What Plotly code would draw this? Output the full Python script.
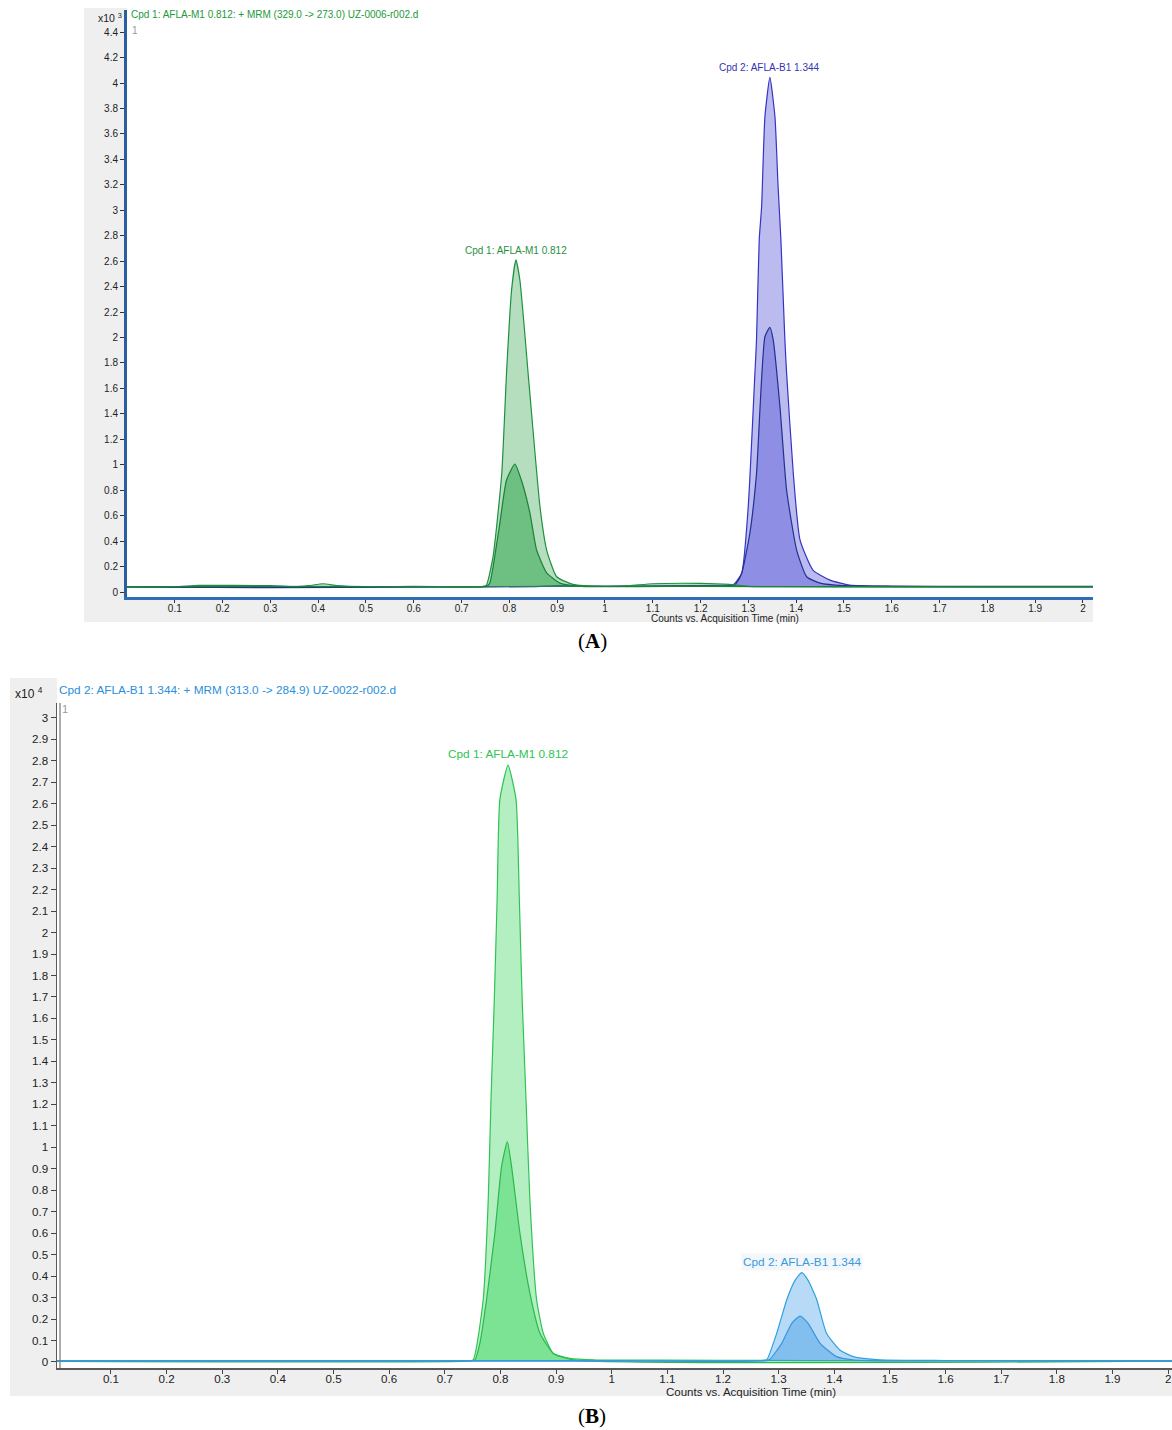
import plotly.graph_objects as go

W, H = 1172, 1430

# ---------------- Panel A data (counts x10^3) ----------------
A_m1_quant_x = [0, 0.1, 0.15, 0.3, 0.35, 0.38, 0.41, 0.44, 0.5, 0.6, 0.7, 0.745, 0.752, 0.766, 0.784, 0.794,
                0.8045, 0.8136, 0.822, 0.841, 0.864, 0.878, 0.899, 0.933, 1.0, 1.05, 1.1, 1.2, 1.26, 1.3, 1.5, 1.7, 2.021]
A_m1_quant_y = [0.04, 0.042, 0.052, 0.05, 0.042, 0.05, 0.065, 0.05, 0.042, 0.045, 0.042, 0.045, 0.055, 0.28, 0.93, 1.72,
                2.37, 2.61, 2.45, 1.64, 0.67, 0.33, 0.12, 0.06, 0.045, 0.05, 0.065, 0.068, 0.06, 0.045, 0.042, 0.04, 0.04]
A_m1_qual_x = [0, 0.3, 0.6, 0.74, 0.752, 0.759, 0.766, 0.78, 0.794, 0.8115, 0.825, 0.843, 0.857, 0.878, 0.906,
               0.95, 1.2, 1.5, 2.021]
A_m1_qual_y = [0.04, 0.045, 0.04, 0.04, 0.045, 0.07, 0.2, 0.54, 0.88, 1.006, 0.88, 0.62, 0.33, 0.15, 0.07,
               0.045, 0.045, 0.04, 0.04]
A_b1_quant_x = [0, 0.2, 0.3, 0.6, 0.9, 1.0, 1.2, 1.26, 1.268, 1.286, 1.2997, 1.3137, 1.317, 1.3227, 1.3277, 1.3346,
                1.345, 1.3556, 1.362, 1.368, 1.3764, 1.380, 1.394, 1.408, 1.4357, 1.4706, 1.512, 1.6, 1.8, 2.021]
A_b1_quant_y = [0.04, 0.036, 0.036, 0.04, 0.045, 0.045, 0.05, 0.05, 0.055, 0.147, 0.67, 1.72, 1.98, 2.77, 3.03, 3.735,
                4.045, 3.735, 3.2, 2.77, 1.98, 1.72, 0.93, 0.41, 0.17, 0.094, 0.055, 0.045, 0.04, 0.04]
A_b1_qual_x = [0, 0.3, 0.6, 0.85, 0.9, 1.0, 1.2, 1.27, 1.275, 1.286, 1.303, 1.317, 1.3346, 1.345, 1.352, 1.366,
               1.380, 1.401, 1.422, 1.450, 1.5, 1.7, 2.021]
A_b1_qual_y = [0.04, 0.034, 0.04, 0.042, 0.05, 0.045, 0.05, 0.05, 0.07, 0.147, 0.46, 0.93, 2.006, 2.08, 1.98, 1.46,
               0.80, 0.33, 0.12, 0.07, 0.05, 0.045, 0.045]

A_ytick_vals = [0, 0.2, 0.4, 0.6, 0.8, 1, 1.2, 1.4, 1.6, 1.8, 2, 2.2, 2.4, 2.6, 2.8, 3, 3.2, 3.4, 3.6, 3.8, 4, 4.2, 4.4]
A_ytick_text = ["0", "0.2", "0.4", "0.6", "0.8", "1", "1.2", "1.4", "1.6", "1.8", "2", "2.2", "2.4", "2.6", "2.8",
                "3", "3.2", "3.4", "3.6", "3.8", "4", "4.2", "4.4"]

# ---------------- Panel B data (counts x10^4) ----------------
B_m1_quant_x = [0, 0.3, 0.6, 0.74, 0.751, 0.769, 0.778, 0.783, 0.789, 0.794, 0.799, 0.8136, 0.828, 0.834, 0.839,
                0.846, 0.853, 0.865, 0.877, 0.895, 0.925, 0.97, 1.2, 1.5, 2.01]
B_m1_quant_y = [0.005, 0.005, 0.005, 0.006, 0.01, 0.29, 0.75, 1.22, 1.69, 2.15, 2.62, 2.78, 2.62, 2.15, 1.69,
                1.22, 0.75, 0.29, 0.134, 0.04, 0.017, 0.01, 0.008, 0.005, 0.005]
B_m1_qual_x = [0, 0.74, 0.754, 0.763, 0.775, 0.79, 0.802, 0.8124, 0.820, 0.835, 0.853, 0.871, 0.895, 0.93, 2.01]
B_m1_qual_y = [0.003, 0.004, 0.01, 0.087, 0.29, 0.6, 0.91, 1.026, 0.91, 0.6, 0.32, 0.134, 0.04, 0.01, 0.004]
B_b1_quant_x = [0, 0.5, 1.0, 1.27, 1.2786, 1.2966, 1.3146, 1.3295, 1.3415, 1.353, 1.3685, 1.386, 1.410, 1.434,
                1.482, 1.6, 2.01]
B_b1_quant_y = [0.006, 0.006, 0.006, 0.007, 0.01, 0.134, 0.29, 0.38, 0.416, 0.38, 0.29, 0.134, 0.056, 0.025,
                0.01, 0.007, 0.006]
B_b1_qual_x = [0, 1.0, 1.275, 1.284, 1.3056, 1.3236, 1.3386, 1.353, 1.3745, 1.404, 1.434, 1.5, 2.01]
B_b1_qual_y = [0.004, 0.004, 0.005, 0.012, 0.087, 0.18, 0.214, 0.18, 0.087, 0.025, 0.01, 0.005, 0.004]

B_ytick_vals = [0, 0.1, 0.2, 0.3, 0.4, 0.5, 0.6, 0.7, 0.8, 0.9, 1, 1.1, 1.2, 1.3, 1.4, 1.5, 1.6, 1.7, 1.8, 1.9,
                2, 2.1, 2.2, 2.3, 2.4, 2.5, 2.6, 2.7, 2.8, 2.9, 3]
B_ytick_text = ["0", "0.1", "0.2", "0.3", "0.4", "0.5", "0.6", "0.7", "0.8", "0.9", "1", "1.1", "1.2", "1.3", "1.4",
                "1.5", "1.6", "1.7", "1.8", "1.9", "2", "2.1", "2.2", "2.3", "2.4", "2.5", "2.6", "2.7", "2.8",
                "2.9", "3"]

xtick_vals = [0.1, 0.2, 0.3, 0.4, 0.5, 0.6, 0.7, 0.8, 0.9, 1, 1.1, 1.2, 1.3, 1.4, 1.5, 1.6, 1.7, 1.8, 1.9, 2]
xtick_text = ["0.1", "0.2", "0.3", "0.4", "0.5", "0.6", "0.7", "0.8", "0.9", "1", "1.1", "1.2", "1.3", "1.4",
              "1.5", "1.6", "1.7", "1.8", "1.9", "2"]

title_A = "Cpd 1: AFLA-M1 0.812: + MRM (329.0 -&gt; 273.0) UZ-0006-r002.d"
title_B = "Cpd 2: AFLA-B1 1.344: + MRM (313.0 -&gt; 284.9) UZ-0022-r002.d"
label_M1 = "Cpd 1: AFLA-M1 0.812"
label_B1 = "Cpd 2: AFLA-B1 1.344"
x_title = "Counts vs. Acquisition Time (min)"

FONT = "Liberation Sans, Arial, sans-serif"

fig = go.Figure()


def add_trace(x, y, xa, ya, fill, line):
    fig.add_trace(go.Scatter(x=x, y=y, xaxis=xa, yaxis=ya, mode="lines", fill="toself",
                             fillcolor=fill, line=dict(color=line, width=1.2, shape="spline", smoothing=0.5),
                             hoverinfo="skip", showlegend=False))


# Panel A
add_trace(A_b1_quant_x, A_b1_quant_y, "x", "y", "rgba(60,60,210,0.35)", "#3434c4")
add_trace(A_b1_qual_x, A_b1_qual_y, "x", "y", "rgba(60,60,210,0.35)", "#22308f")
add_trace(A_m1_quant_x, A_m1_quant_y, "x", "y", "rgba(40,160,70,0.35)", "#1f9040")
add_trace(A_m1_qual_x, A_m1_qual_y, "x", "y", "rgba(40,160,70,0.5)", "#1b8038")
# Panel B
add_trace(B_m1_quant_x, B_m1_quant_y, "x2", "y2", "rgba(40,210,80,0.35)", "#2ec454")
add_trace(B_m1_qual_x, B_m1_qual_y, "x2", "y2", "rgba(40,210,80,0.4)", "#2ab84e")
add_trace(B_b1_quant_x, B_b1_quant_y, "x2", "y2", "rgba(50,150,230,0.35)", "#2fa0e0")
add_trace(B_b1_qual_x, B_b1_qual_y, "x2", "y2", "rgba(50,150,230,0.4)", "#3a96dc")


def px(xp):
    return xp / W


def py(yp):
    return 1 - yp / H


# geometry (pixels)
A_left, A_right, A_top, A_bot = 127, 1093, 10, 597
B_left, B_right, B_top, B_bot = 57, 1172, 703, 1368

tickfontA = dict(family=FONT, size=10, color="#222")
tickfontB = dict(family=FONT, size=11.6, color="#222")

fig.update_layout(
    width=W, height=H, margin=dict(l=0, r=0, t=0, b=0),
    paper_bgcolor="white", plot_bgcolor="white",
    xaxis=dict(domain=[px(A_left), px(A_right)], range=[0, 2.021], anchor="y",
               tickvals=xtick_vals, ticktext=xtick_text, ticks="outside", ticklen=3, tickcolor="#333",
               ticklabelstandoff=-3,
               tickfont=tickfontA, showgrid=False, zeroline=False, showline=True, linecolor="#2f6db5",
               linewidth=3, fixedrange=True),
    yaxis=dict(domain=[py(A_bot), py(A_top)], range=[-0.039, 4.574], anchor="x",
               tickvals=A_ytick_vals, ticktext=A_ytick_text, ticks="outside", ticklen=4, tickcolor="#333",
               tickfont=tickfontA, showgrid=False, zeroline=False, showline=True, linecolor="#2c5d9c",
               linewidth=3, fixedrange=True),
    xaxis2=dict(domain=[px(B_left), px(B_right)], range=[0.003, 2.007], anchor="y2",
                tickvals=xtick_vals, ticktext=xtick_text, ticks="outside", ticklen=4, tickcolor="#444",
                ticklabelstandoff=-5,
                tickfont=tickfontB, showgrid=False, zeroline=False, showline=True, linecolor="#5a5a5a",
                linewidth=2, fixedrange=True),
    yaxis2=dict(domain=[py(B_bot), py(B_top)], range=[-0.028, 3.069], anchor="x2",
                tickvals=B_ytick_vals, ticktext=B_ytick_text, ticks="outside", ticklen=5, tickcolor="#444",
                tickfont=tickfontB, showgrid=False, zeroline=False, showline=True, linecolor="#5a5a5a",
                linewidth=1.5, fixedrange=True),
)

shapes = [
    # gray frames (outside plot areas)
    dict(type="rect", xref="paper", yref="paper", x0=px(84), x1=px(A_left), y0=py(622), y1=py(8),
         fillcolor="#efefef", line=dict(width=0), layer="below"),
    dict(type="rect", xref="paper", yref="paper", x0=px(A_left), x1=px(A_right), y0=py(622), y1=py(A_bot),
         fillcolor="#efefef", line=dict(width=0), layer="below"),
    dict(type="rect", xref="paper", yref="paper", x0=px(10), x1=px(B_left), y0=py(1396), y1=py(678),
         fillcolor="#efefef", line=dict(width=0), layer="below"),
    dict(type="rect", xref="paper", yref="paper", x0=px(B_left), x1=px(B_right), y0=py(1396), y1=py(B_bot),
         fillcolor="#efefef", line=dict(width=0), layer="below"),
    # second line of double y-axis in panel B
    dict(type="line", xref="paper", yref="paper", x0=px(B_left + 3), x1=px(B_left + 3), y0=py(B_bot), y1=py(B_top),
         line=dict(color="#777", width=1.2)),
]
fig.update_layout(shapes=shapes)

ann = []
# panel titles
ann.append(dict(xref="paper", yref="paper", x=px(129), y=py(14), xanchor="left", yanchor="middle",
                text=title_A, showarrow=False, font=dict(family=FONT, size=10, color="#1a9a3a")))
ann.append(dict(xref="paper", yref="paper", x=px(57), y=py(690), xanchor="left", yanchor="middle",
                text=title_B, showarrow=False, font=dict(family=FONT, size=11.8, color="#2a8fdc")))
# multiplier labels
ann.append(dict(xref="paper", yref="paper", x=px(124), y=py(17), xanchor="right", yanchor="middle",
                text="x10 <sup>3</sup>", showarrow=False, font=dict(family=FONT, size=10.5, color="#222")))
ann.append(dict(xref="paper", yref="paper", x=px(45), y=py(693), xanchor="right", yanchor="middle",
                text="x10 <sup>4</sup>", showarrow=False, font=dict(family=FONT, size=12, color="#222")))
# small "1" markers
ann.append(dict(xref="paper", yref="paper", x=px(130), y=py(31), xanchor="left", yanchor="middle",
                text="1", showarrow=False, font=dict(family=FONT, size=10, color="#999")))
ann.append(dict(xref="paper", yref="paper", x=px(60), y=py(709), xanchor="left", yanchor="middle",
                text="1", showarrow=False, font=dict(family=FONT, size=11, color="#999")))
# x-axis titles
ann.append(dict(xref="paper", yref="paper", x=px(725), y=py(618), xanchor="center", yanchor="middle",
                text=x_title, showarrow=False, font=dict(family=FONT, size=10, color="#222")))
ann.append(dict(xref="paper", yref="paper", x=px(751), y=py(1392), xanchor="center", yanchor="middle",
                text=x_title, showarrow=False, font=dict(family=FONT, size=11.5, color="#222")))
# peak labels
ann.append(dict(xref="x", yref="y", x=A_m1_quant_x[A_m1_quant_y.index(max(A_m1_quant_y))], y=max(A_m1_quant_y),
                xanchor="center", yanchor="bottom", yshift=2, text=label_M1, showarrow=False,
                font=dict(family=FONT, size=10, color="#1f8f3f")))
ann.append(dict(xref="x", yref="y", x=A_b1_quant_x[A_b1_quant_y.index(max(A_b1_quant_y))], y=max(A_b1_quant_y),
                xanchor="center", yanchor="bottom", yshift=2, text=label_B1, showarrow=False,
                font=dict(family=FONT, size=10, color="#3434b4")))
ann.append(dict(xref="x2", yref="y2", x=B_m1_quant_x[B_m1_quant_y.index(max(B_m1_quant_y))], y=max(B_m1_quant_y),
                xanchor="center", yanchor="bottom", yshift=2, text=label_M1, showarrow=False,
                font=dict(family=FONT, size=11.8, color="#2ec454")))
ann.append(dict(xref="x2", yref="y2", x=B_b1_quant_x[B_b1_quant_y.index(max(B_b1_quant_y))], y=max(B_b1_quant_y),
                xanchor="center", yanchor="bottom", yshift=2, text=label_B1, showarrow=False,
                bgcolor="#f3f7fa", font=dict(family=FONT, size=11.8, color="#3a9ae0")))
# captions
ann.append(dict(xref="paper", yref="paper", x=px(592), y=py(641), xanchor="center", yanchor="middle",
                text="(<b>A</b>)", showarrow=False,
                font=dict(family="Liberation Serif, Times New Roman, serif", size=21, color="#000")))
ann.append(dict(xref="paper", yref="paper", x=px(592), y=py(1416), xanchor="center", yanchor="middle",
                text="(<b>B</b>)", showarrow=False,
                font=dict(family="Liberation Serif, Times New Roman, serif", size=21, color="#000")))
fig.update_layout(annotations=ann)

fig.write_html("out.html", config={"displayModeBar": False, "staticPlot": True},
               post_script="document.body.style.margin='0';document.body.style.overflow='hidden';")
